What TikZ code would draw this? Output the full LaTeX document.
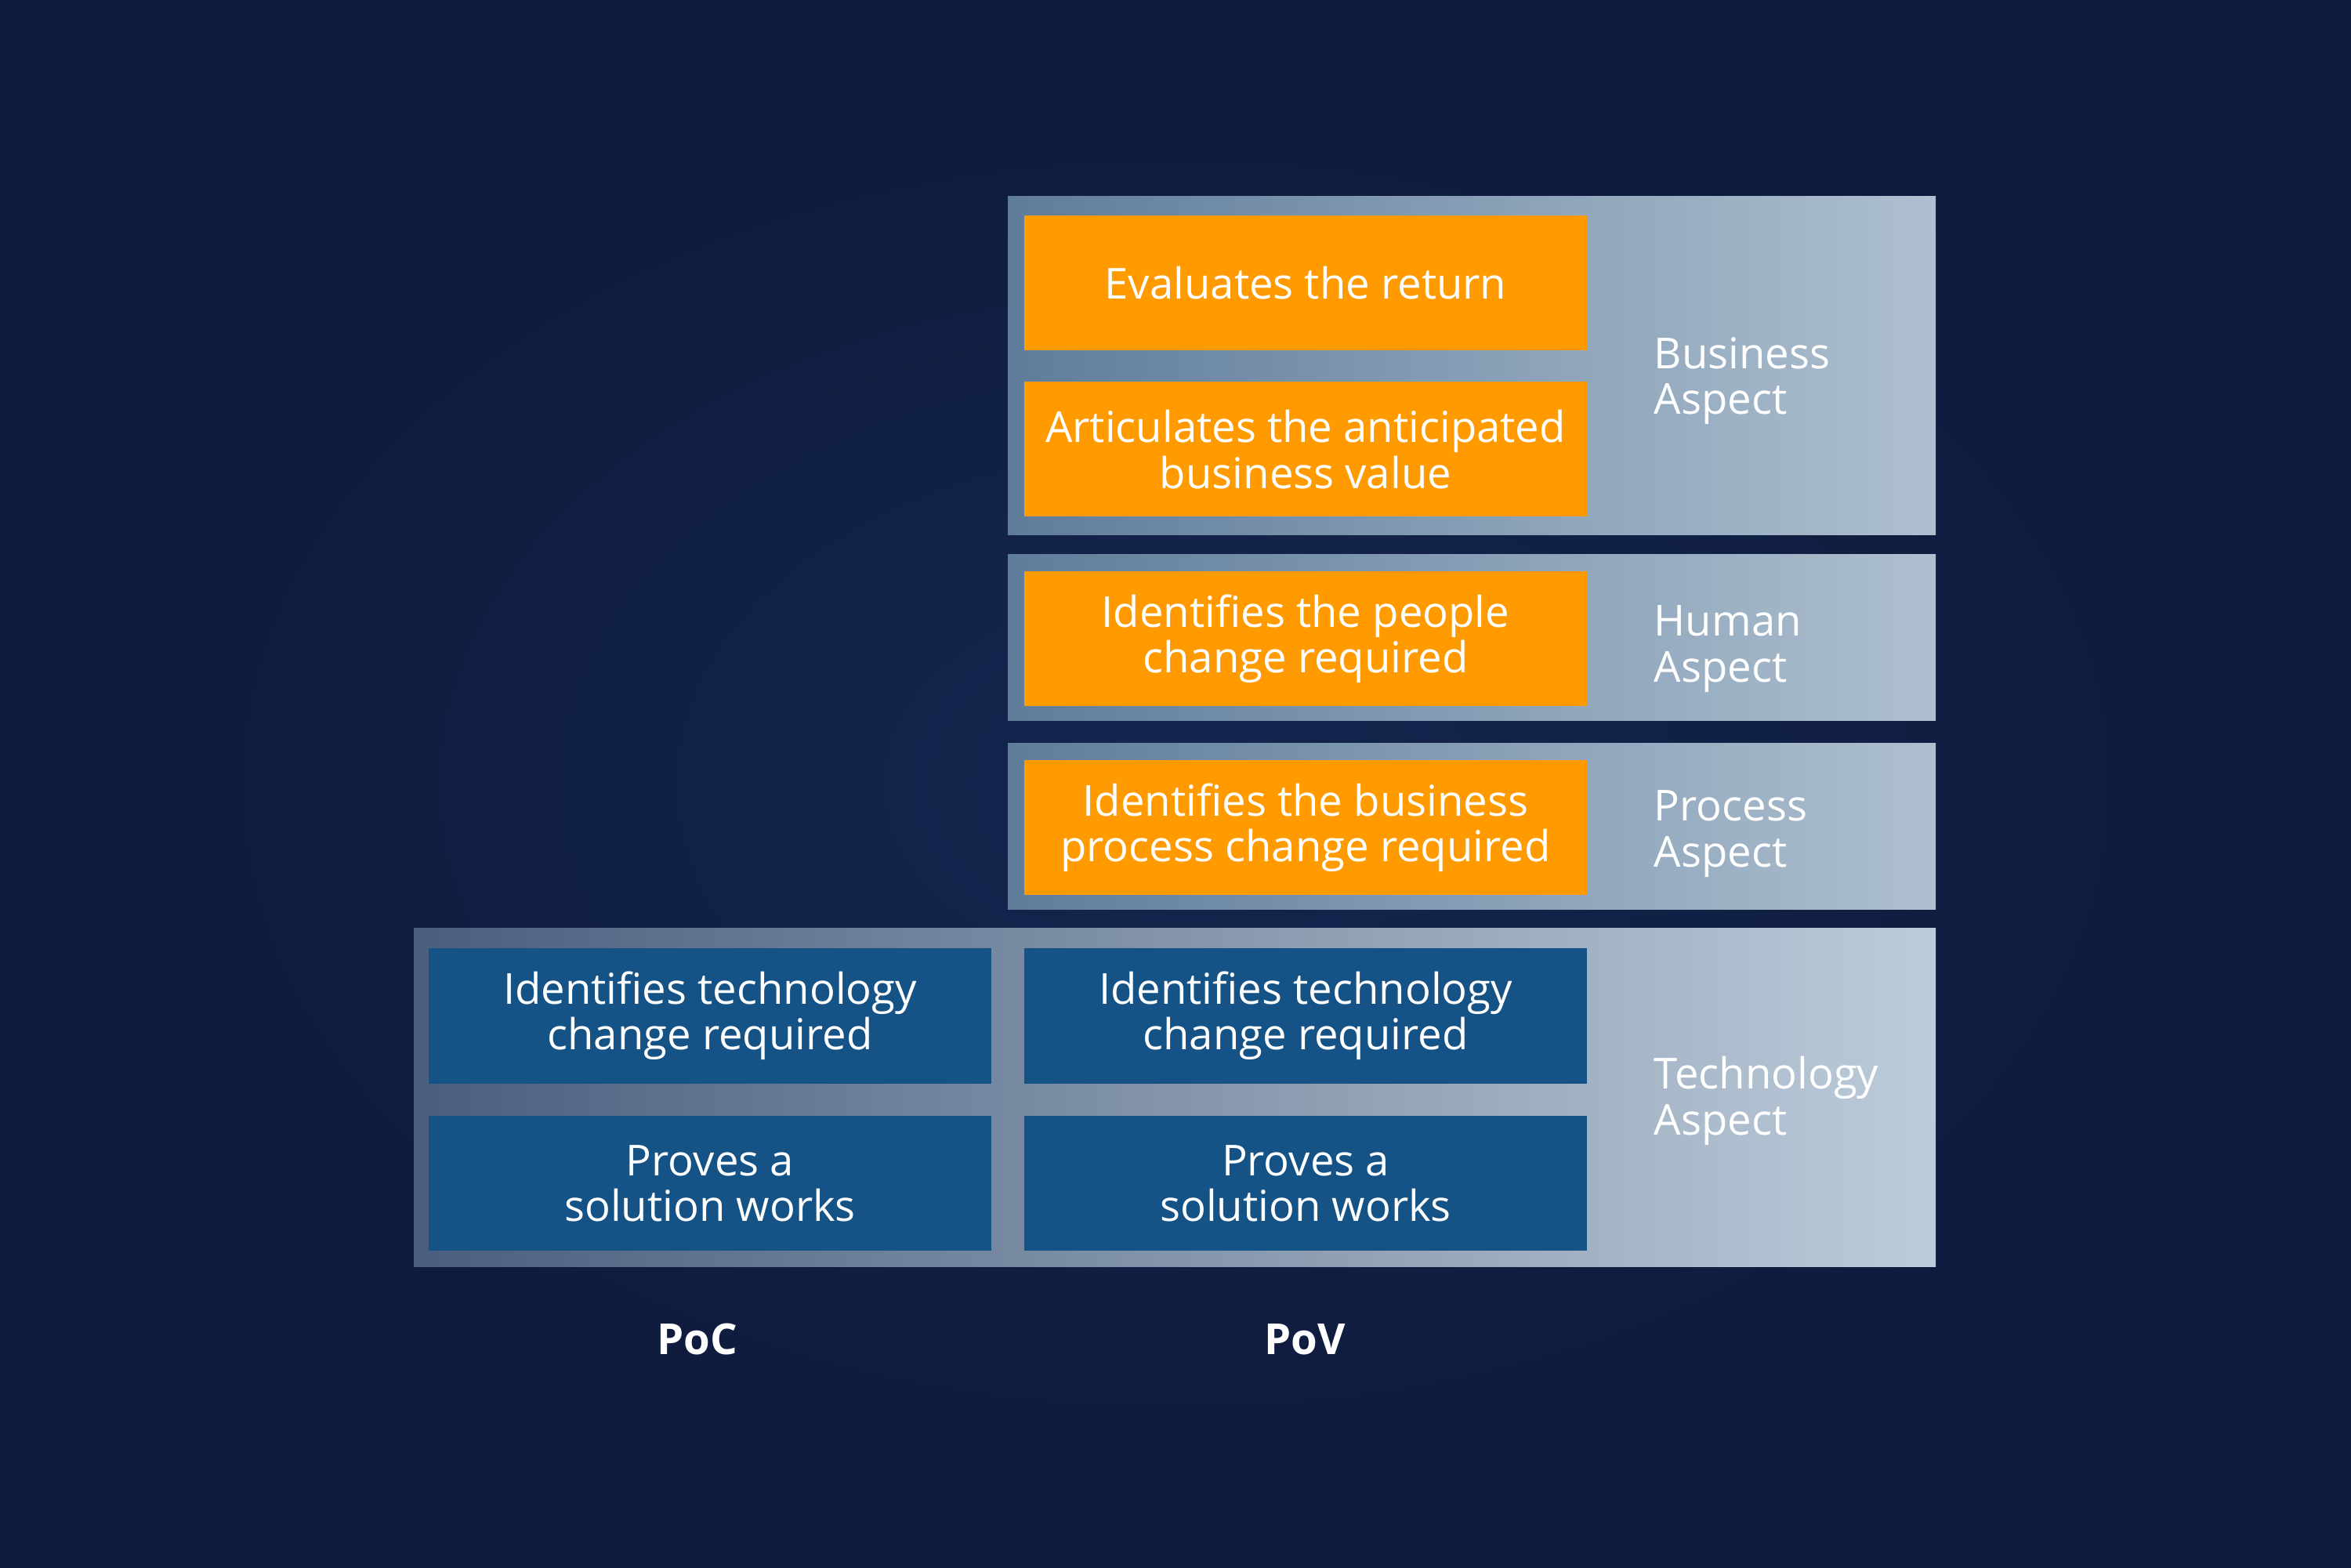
\documentclass[tikz,border=0pt]{standalone}
\usepackage{fontspec}
\setmainfont{Open Sans}
\usetikzlibrary{calc}

\definecolor{bgin}{HTML}{14264F}
\definecolor{bgout}{HTML}{0E1A3B}
\definecolor{bandl}{HTML}{5F7C9A}
\definecolor{bandr}{HTML}{AEC0D0}
\definecolor{techl}{HTML}{4A5E7D}
\definecolor{techr}{HTML}{BDCCDA}
\definecolor{orangebox}{HTML}{FF9A00}
\definecolor{bluebox}{HTML}{155387}

\tikzset{
    band/.style={rectangle, inner sep=0pt, left color=bandl, right color=bandr},
    techband/.style={rectangle, inner sep=0pt, left color=techl, right color=techr},
    orangecell/.style={rectangle, fill=orangebox, minimum width=7.18cm, minimum height=1.72cm, inner sep=0pt, align=center, text=white, font=\fontsize{15.5}{16.6}\selectfont},
    bluecell/.style={orangecell, fill=bluebox},
    aspect/.style={anchor=west, align=left, text=white, inner sep=0pt, font=\fontsize{15.5}{16.6}\selectfont},
    column/.style={text=white, font=\fontsize{15.5}{16.6}\selectfont\bfseries}
}

\begin{document}
\begin{tikzpicture}
        \useasboundingbox (0,0) rectangle (30,20);
        \shade[inner color=bgin, outer color=bgout] (0,0) rectangle (30,20);
        % bands
        \node[band, minimum width=11.84cm, minimum height=4.32cm] (business) at (18.78,15.33) {};
        \node[band, minimum width=11.84cm, minimum height=2.12cm] (human) at (18.78,11.86) {};
        \node[band, minimum width=11.84cm, minimum height=2.12cm] (process) at (18.78,9.45) {};
        \node[techband, minimum width=19.42cm, minimum height=4.31cm] (technology) at (14.99,5.995) {};
        % cells
        \node[orangecell] (evaluate) at (16.66,16.39) {Evaluates the return};
        \node[orangecell] (articulate) at (16.66,14.265) {Articulates the anticipated\\business value};
        \node[orangecell] (people) at (16.66,11.85) {Identifies the people\\change required};
        \node[orangecell] (bprocess) at (16.66,9.44) {Identifies the business\\process change required};
        \node[bluecell] (poctech) at (9.06,7.035) {Identifies technology\\change required};
        \node[bluecell] (pocproof) at (9.06,4.90) {Proves a\\solution works};
        \node[bluecell] (povtech) at (16.66,7.035) {Identifies technology\\change required};
        \node[bluecell] (povproof) at (16.66,4.90) {Proves a\\solution works};
        % aspect labels
        \node[aspect] (businesslabel) at (21.10,15.14) {Business\\Aspect};
        \node[aspect] (humanlabel) at (21.10,11.72) {Human\\Aspect};
        \node[aspect] (processlabel) at (21.10,9.36) {Process\\Aspect};
        \node[aspect] (techlabel) at (21.10,5.95) {Technology\\Aspect};
        % columns
        \node[column] (poc) at (8.90,2.91) {PoC};
        \node[column] (pov) at (16.65,2.91) {PoV};
    \end{tikzpicture}
\end{document}
